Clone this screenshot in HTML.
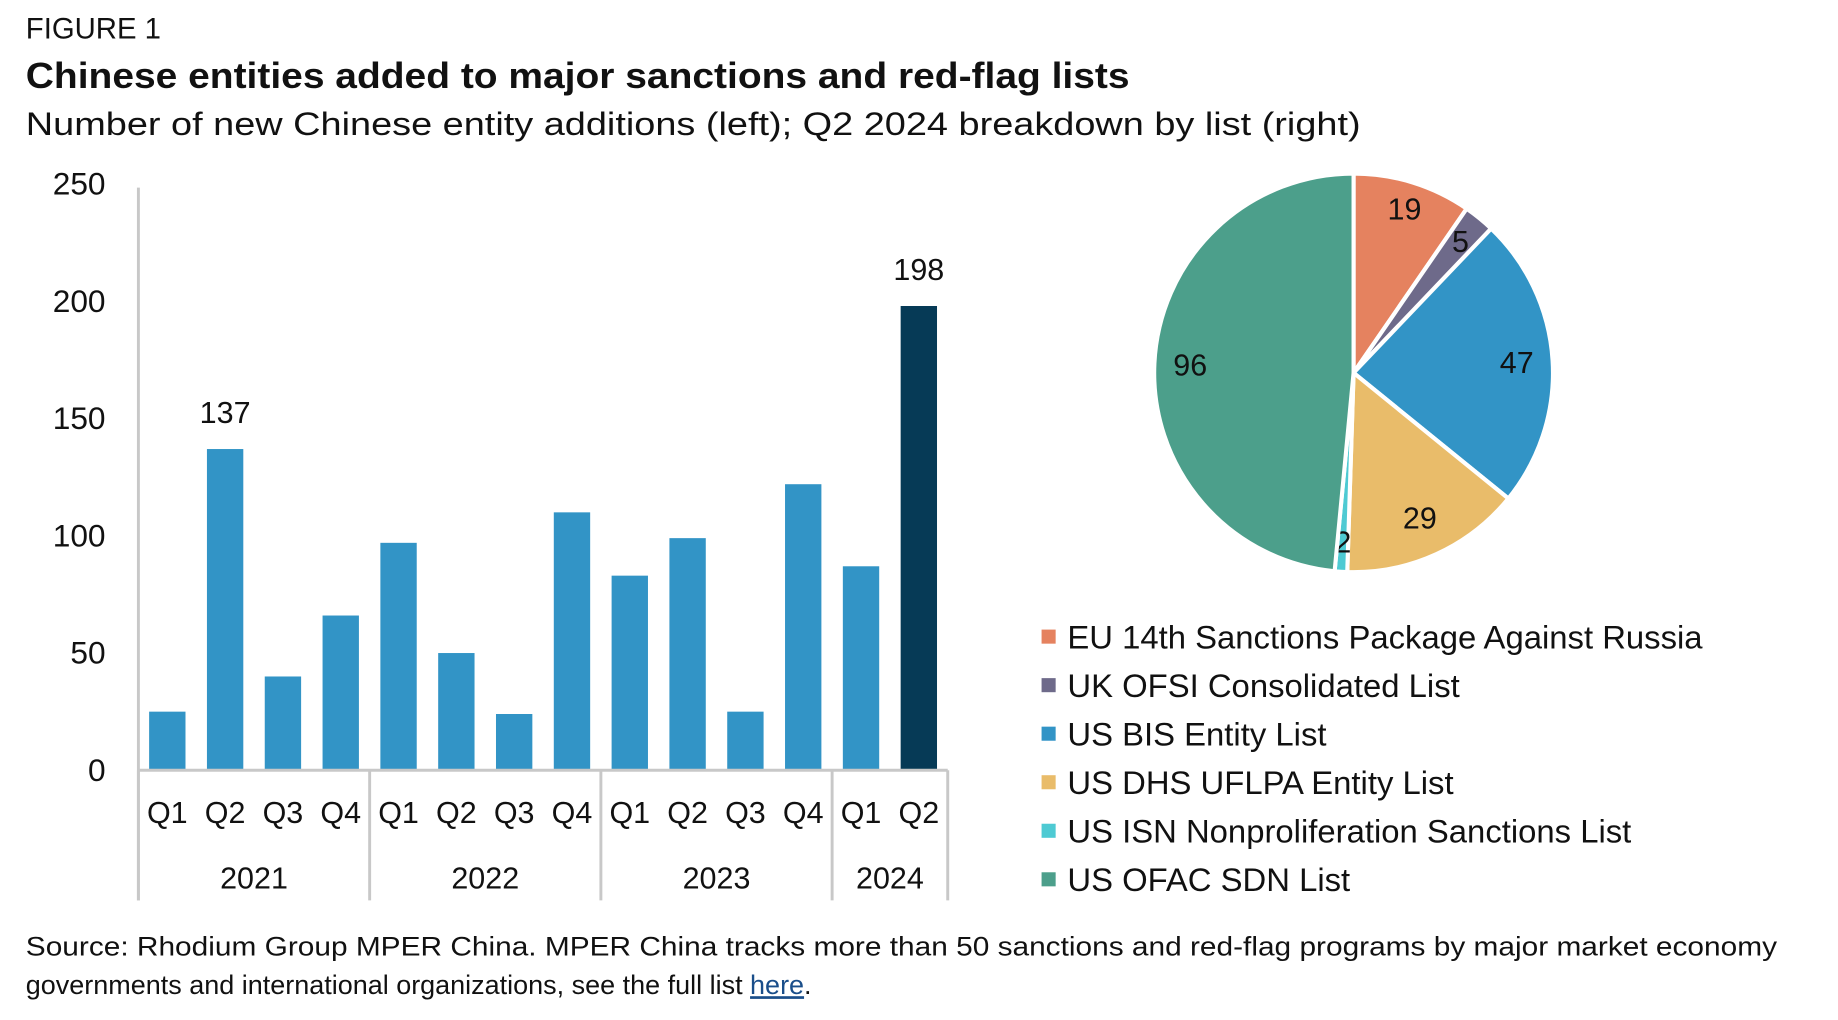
<!DOCTYPE html>
<html><head><meta charset="utf-8"><style>
html,body{margin:0;padding:0;background:#fff}
svg{display:block}
text{font-family:"Liberation Sans",sans-serif;fill:#111}
</style></head><body>
<svg id="chart" width="1838" height="1020" viewBox="0 0 1567 870" preserveAspectRatio="none">
<text x="22" y="33" font-size="25">FIGURE 1</text>
<text x="22" y="75" font-size="31" font-weight="bold" textLength="941" lengthAdjust="spacingAndGlyphs">Chinese entities added to major sanctions and red-flag lists</text>
<text x="22" y="115" font-size="28" textLength="1138" lengthAdjust="spacingAndGlyphs">Number of new Chinese entity additions (left); Q2 2024 breakdown by list (right)</text>
<g id="bars"></g>
<g id="pie"></g>
<g id="legend"></g>
<text x="22" y="815" font-size="23" textLength="1493" lengthAdjust="spacingAndGlyphs">Source: Rhodium Group MPER China. MPER China tracks more than 50 sanctions and red-flag programs by major market economy</text>
<text x="22" y="848" font-size="23">governments and international organizations, see the full list <tspan fill="#1a4e8a" text-decoration="underline">here</tspan>.</text>
</svg>
<script>
const quarters = ["Q1","Q2","Q3","Q4","Q1","Q2","Q3","Q4","Q1","Q2","Q3","Q4","Q1","Q2"];
const years = ["2021","2022","2023","2024"];
const yearCounts = [4,4,4,2];
const values = [25,137,40,66,97,50,24,110,83,99,25,122,87,198];
const labeledValues = [null,137,null,null,null,null,null,null,null,null,null,null,null,198];
const yTicks = [0,50,100,150,200,250];
const pieLabels = ["EU 14th Sanctions Package Against Russia","UK OFSI Consolidated List","US BIS Entity List","US DHS UFLPA Entity List","US ISN Nonproliferation Sanctions List","US OFAC SDN List"];
const pieValues = [19,5,47,29,2,96];
const pieColors = ["#e5825f","#6e6a8a","#3294c6","#e9bc6a","#4ecad3","#4c9f8b"];

const NS="http://www.w3.org/2000/svg";
function mk(tag,attrs,parent,txt){const e=document.createElementNS(NS,tag);for(const k in attrs)e.setAttribute(k,attrs[k]);if(txt!=null)e.textContent=txt;parent.appendChild(e);return e;}
const x0=118,x1=808,y0=657,yTop=157,yMax=250;
const band=(x1-x0)/quarters.length;
const yScale=v=>y0-(v/yMax)*(y0-yTop);
const xCenter=i=>x0+band*(i+0.5);
const bars=document.getElementById('bars');
yTicks.forEach(t=>{const e=mk('text',{x:90,y:yScale(t)+9,'font-size':27,'text-anchor':'end'},bars,String(t));

});
const ax=mk('line',{x1:x0,y1:160,x2:x0,y2:768,stroke:'#c8c8c8','stroke-width':2.5},bars);


values.forEach((v,i)=>{const w=31;const r=mk('rect',{x:xCenter(i)-w/2,y:yScale(v),width:w,height:y0-yScale(v),fill:i===values.length-1?'#063a56':'#3294c6'},bars);


const q=mk('text',{x:xCenter(i),y:702,'font-size':26,'text-anchor':'middle'},bars,quarters[i]);


if(labeledValues[i]!=null){const l=mk('text',{x:xCenter(i),y:yScale(v)-22,'font-size':26,'text-anchor':'middle'},bars,String(labeledValues[i]));

}});
const base=mk('line',{x1:x0,y1:y0,x2:x1,y2:y0,stroke:'#c8c8c8','stroke-width':2.5},bars);


let bx=x0;
const sep0=mk('line',{x1:x0,y1:y0,x2:x0,y2:768,stroke:'#c8c8c8','stroke-width':2.5},bars);


years.forEach((yr,k)=>{const nx=bx+band*yearCounts[k];
const t=mk('text',{x:(bx+nx)/2,y:758,'font-size':26,'text-anchor':'middle'},bars,yr);


const s=mk('line',{x1:nx,y1:y0,x2:nx,y2:768,stroke:'#c8c8c8','stroke-width':2.5},bars);


bx=nx;});

const pie=document.getElementById('pie');
const cx=1154,cy=318,R=170;
const total=pieValues.reduce((a,b)=>a+b,0);
let a=0;
const labelR=[0.86,0.85,0.82,0.8,0.85,0.82];
pieValues.forEach((v,i)=>{const a0=a,a1=a+v/total*2*Math.PI;a=a1;
const p=t=>[cx+R*Math.sin(t),cy-R*Math.cos(t)];
const [sx,sy]=p(a0),[ex,ey]=p(a1);
const d=`M${cx},${cy} L${sx},${sy} A${R},${R} 0 ${a1-a0>Math.PI?1:0} 1 ${ex},${ey} Z`;
const s=mk('path',{d:d,fill:pieColors[i],stroke:'#fff','stroke-width':3.5,'stroke-linejoin':'round'},pie);


const m=(a0+a1)/2,lr=R*labelR[i];
const l=mk('text',{x:cx+lr*Math.sin(m),y:cy-lr*Math.cos(m)+9,'font-size':26,'text-anchor':'middle'},pie,String(v));

});

const lg=document.getElementById('legend');
pieLabels.forEach((lab,i)=>{const y=543+i*41.4;
const sq=mk('rect',{x:888,y:y-6,width:12,height:12,fill:pieColors[i]},lg);


const t=mk('text',{x:910,y:y+10,'font-size':28},lg,lab);

});
</script>
</body></html>
